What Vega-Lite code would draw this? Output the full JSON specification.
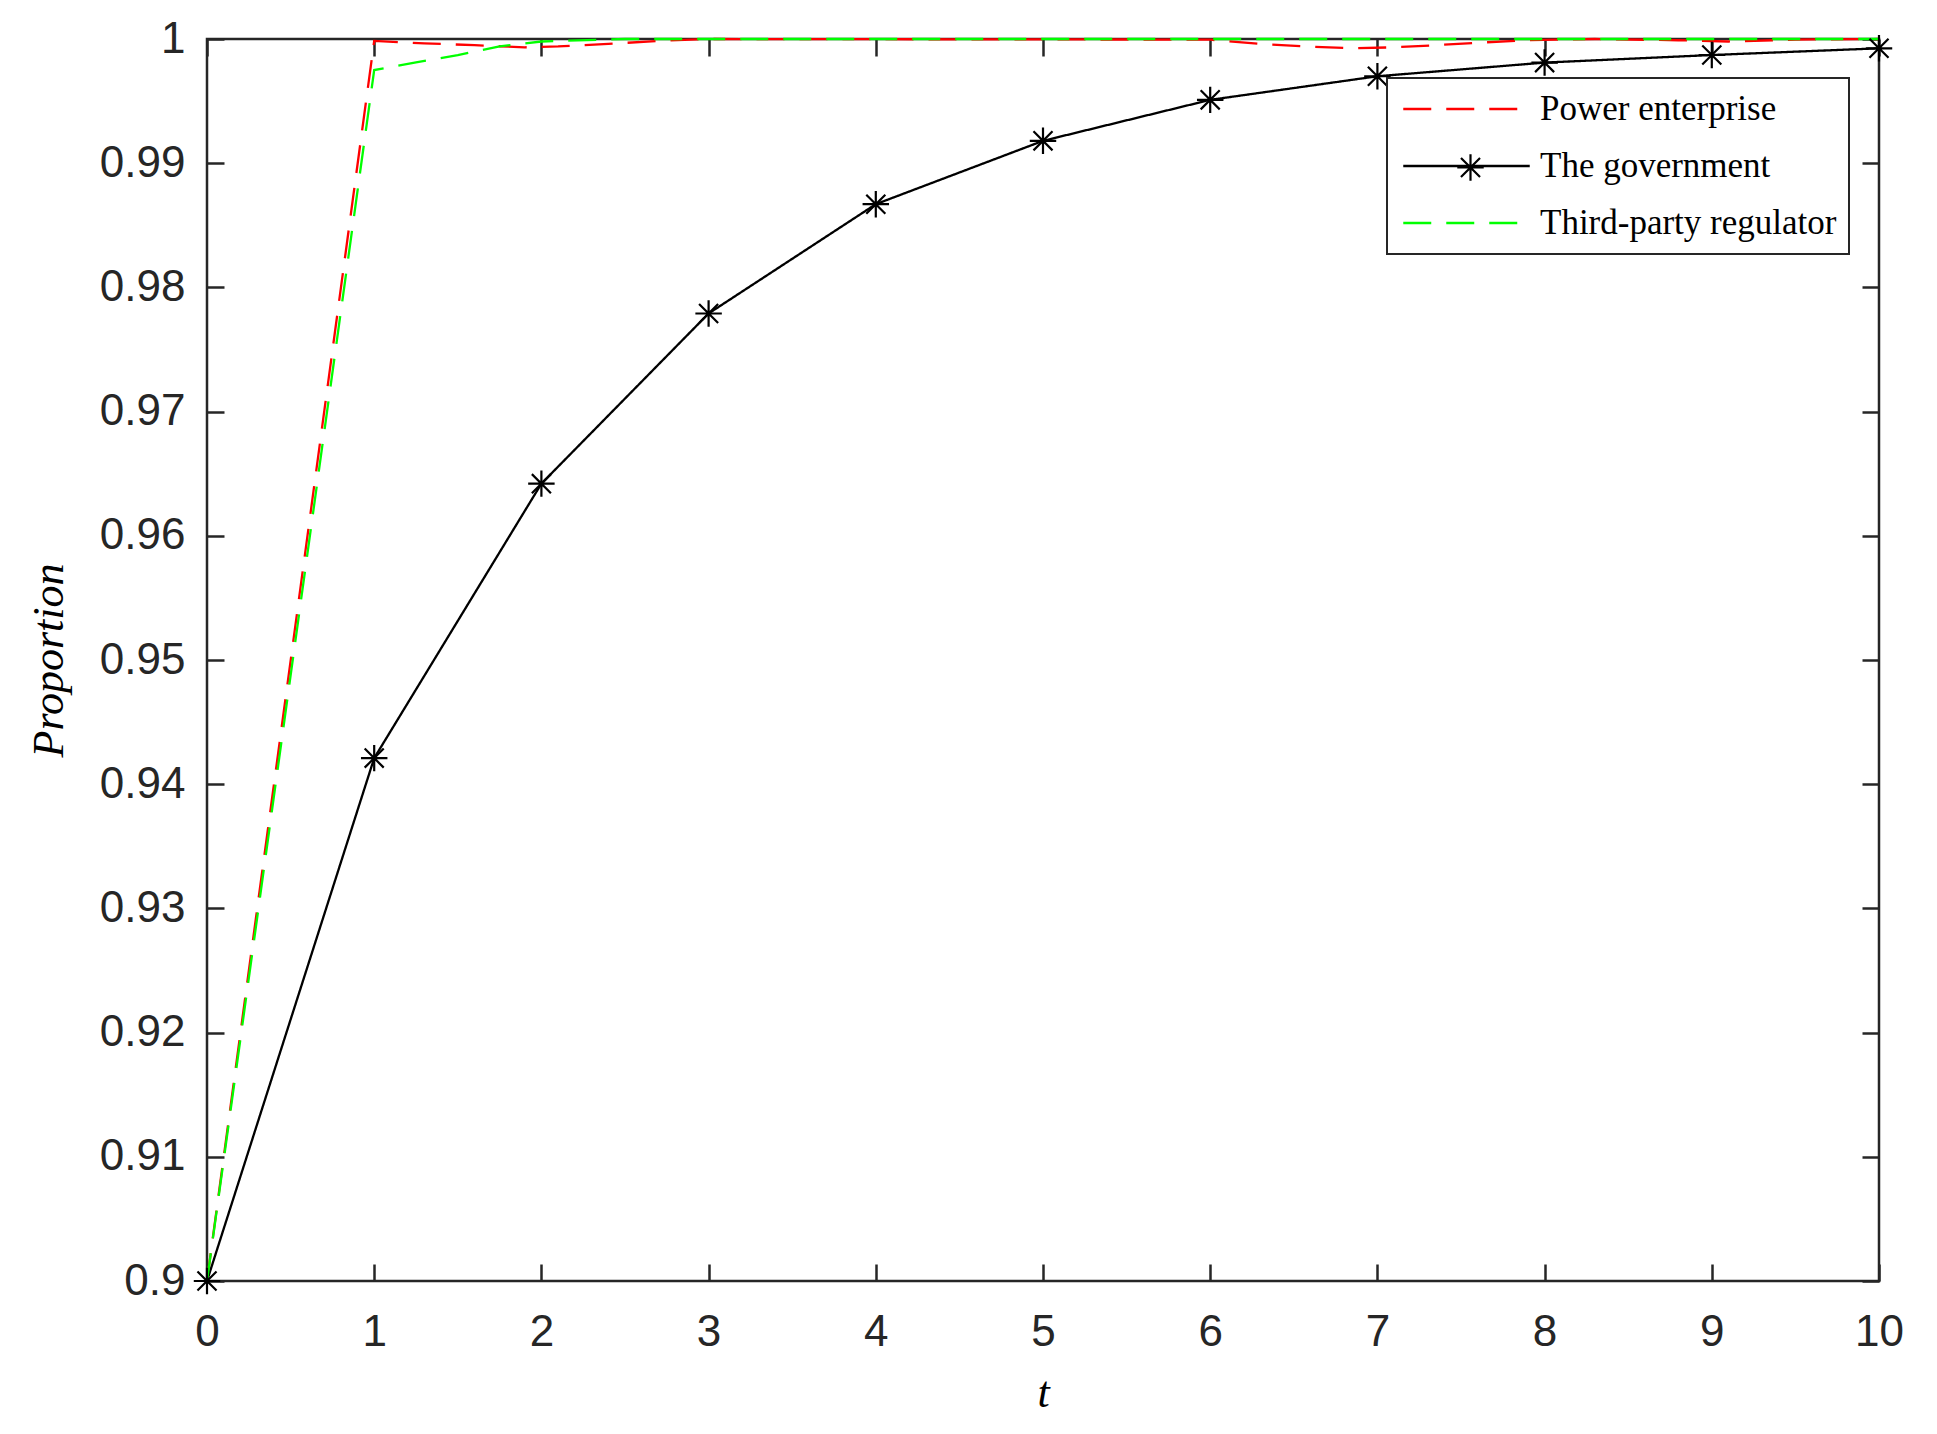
{
  "$schema": "https://vega.github.io/schema/vega-lite/v6.json",
  "width": 1672,
  "height": 1242,
  "autosize": "none",
  "padding": {"left": 207, "top": 39, "right": 58, "bottom": 153},
  "background": "white",
  "config": {
    "view": {"stroke": "#262626", "strokeWidth": 2.5},
    "legend": {"strokeWidth": 2},
    "axis": {
      "labelFont": "Liberation Sans",
      "labelColor": "#262626",
      "labelFontSize": 44,
      "labelFlush": false,
      "tickColor": "#262626",
      "tickWidth": 2.5,
      "grid": false,
      "domain": false
    }
  },
  "data": {
    "values": [
      {"t": 0, "value": 0.9, "series": "Power enterprise"},
      {"t": 1, "value": 0.99985, "series": "Power enterprise"},
      {"t": 1.3, "value": 0.99965, "series": "Power enterprise"},
      {"t": 1.6, "value": 0.9995, "series": "Power enterprise"},
      {"t": 1.9, "value": 0.99933, "series": "Power enterprise"},
      {"t": 2.1, "value": 0.9994, "series": "Power enterprise"},
      {"t": 2.4, "value": 0.9996, "series": "Power enterprise"},
      {"t": 2.7, "value": 0.99985, "series": "Power enterprise"},
      {"t": 3, "value": 1.0, "series": "Power enterprise"},
      {"t": 6, "value": 0.99995, "series": "Power enterprise"},
      {"t": 6.3, "value": 0.9996, "series": "Power enterprise"},
      {"t": 6.6, "value": 0.99938, "series": "Power enterprise"},
      {"t": 6.85, "value": 0.99925, "series": "Power enterprise"},
      {"t": 7.1, "value": 0.99933, "series": "Power enterprise"},
      {"t": 7.35, "value": 0.9995, "series": "Power enterprise"},
      {"t": 7.6, "value": 0.9997, "series": "Power enterprise"},
      {"t": 7.9, "value": 0.9999, "series": "Power enterprise"},
      {"t": 8.3, "value": 1.0, "series": "Power enterprise"},
      {"t": 8.8, "value": 0.9999, "series": "Power enterprise"},
      {"t": 9.1, "value": 0.9998, "series": "Power enterprise"},
      {"t": 9.5, "value": 0.99995, "series": "Power enterprise"},
      {"t": 10, "value": 1.0, "series": "Power enterprise"},
      {"t": 0, "value": 0.9, "series": "The government"},
      {"t": 1, "value": 0.9421, "series": "The government"},
      {"t": 2, "value": 0.9642, "series": "The government"},
      {"t": 3, "value": 0.9779, "series": "The government"},
      {"t": 4, "value": 0.9867, "series": "The government"},
      {"t": 5, "value": 0.9918, "series": "The government"},
      {"t": 6, "value": 0.9951, "series": "The government"},
      {"t": 7, "value": 0.9970, "series": "The government"},
      {"t": 8, "value": 0.9981, "series": "The government"},
      {"t": 9, "value": 0.99871, "series": "The government"},
      {"t": 10, "value": 0.99925, "series": "The government"},
      {"t": 0, "value": 0.9, "series": "Third-party regulator"},
      {"t": 1, "value": 0.9975, "series": "Third-party regulator"},
      {"t": 1.25, "value": 0.99812, "series": "Third-party regulator"},
      {"t": 1.5, "value": 0.9987, "series": "Third-party regulator"},
      {"t": 1.75, "value": 0.9994, "series": "Third-party regulator"},
      {"t": 2, "value": 0.9998, "series": "Third-party regulator"},
      {"t": 2.5, "value": 1.0, "series": "Third-party regulator"},
      {"t": 10, "value": 1.0, "series": "Third-party regulator"}
    ]
  },
  "layer": [
    {
      "mark": {"type": "line", "strokeWidth": 2.3},
      "encoding": {
        "x": {
          "field": "t",
          "type": "quantitative",
          "scale": {"domain": [0, 10], "nice": false, "zero": false},
          "axis": {
            "orient": "bottom",
            "values": [0, 1, 2, 3, 4, 5, 6, 7, 8, 9, 10],
            "format": "d",
            "tickSize": -17,
            "labelPadding": 46,
            "title": "t",
            "titleFont": "Liberation Serif",
            "titleFontStyle": "italic",
            "titleFontWeight": "normal",
            "titleFontSize": 44,
            "titleColor": "black",
            "titlePadding": 17
          }
        },
        "y": {
          "field": "value",
          "type": "quantitative",
          "scale": {"domain": [0.9, 1], "nice": false, "zero": false},
          "axis": {
            "orient": "left",
            "values": [0.9, 0.91, 0.92, 0.93, 0.94, 0.95, 0.96, 0.97, 0.98, 0.99, 1],
            "format": "~g",
            "tickSize": -17,
            "labelPadding": 39,
            "title": "Proportion",
            "titleFont": "Liberation Serif",
            "titleFontStyle": "italic",
            "titleFontWeight": "normal",
            "titleFontSize": 44,
            "titleColor": "black",
            "titlePadding": 28
          }
        },
        "color": {
          "field": "series",
          "type": "nominal",
          "scale": {
            "domain": ["Power enterprise", "The government", "Third-party regulator"],
            "range": ["#FF0000", "#000000", "#00FF00"]
          },
          "legend": {
            "orient": "none",
            "legendX": 1180,
            "legendY": 39,
            "title": null,
            "symbolType": "stroke",
            "symbolSize": 16000,
            "symbolStrokeWidth": 2.5,
            "symbolOffset": 3,
            "clipHeight": 38,
            "labelFont": "Liberation Serif",
            "labelFontSize": 35,
            "labelColor": "black",
            "labelOffset": 9,
            "labelLimit": 500,
            "padding": 12,
            "rowPadding": 19,
            "strokeColor": "#262626",
            "fillColor": "white"
          }
        },
        "strokeDash": {
          "field": "series",
          "type": "nominal",
          "scale": {
            "domain": ["Power enterprise", "The government", "Third-party regulator"],
            "range": [[28, 15], [1, 0], [28, 15]]
          },
          "legend": null
        },
        "detail": {"field": "series", "type": "nominal"}
      }
    },
    {
      "transform": [{"filter": "datum.series === 'The government'"}],
      "mark": {"type": "point", "filled": false, "stroke": "#000000", "strokeWidth": 2.2, "size": 700, "opacity": 1},
      "encoding": {
        "x": {
          "field": "t",
          "type": "quantitative",
          "axis": {
            "orient": "top",
            "values": [0, 1, 2, 3, 4, 5, 6, 7, 8, 9, 10],
            "labels": false,
            "tickSize": -17,
            "title": null
          }
        },
        "y": {
          "field": "value",
          "type": "quantitative",
          "axis": {
            "orient": "right",
            "values": [0.9, 0.91, 0.92, 0.93, 0.94, 0.95, 0.96, 0.97, 0.98, 0.99, 1],
            "labels": false,
            "tickSize": -17,
            "title": null
          }
        },
        "shape": {
          "field": "series",
          "type": "nominal",
          "scale": {
            "domain": ["The government"],
            "range": ["M0,-1L0,1M-1,0L1,0M-0.72,-0.72L0.72,0.72M-0.72,0.72L0.72,-0.72"]
          },
          "legend": {
            "orient": "none",
            "legendX": 1249,
            "legendY": 114,
            "title": null,
            "padding": 0,
            "symbolSize": 700,
            "symbolStrokeColor": "#000000",
            "symbolFillColor": "transparent",
            "symbolStrokeWidth": 2.2,
            "labelExpr": "''",
            "labelOffset": 0
          }
        }
      }
    }
  ],
  "resolve": {"axis": {"x": "independent", "y": "independent"}, "scale": {"x": "shared", "y": "shared"}}
}
